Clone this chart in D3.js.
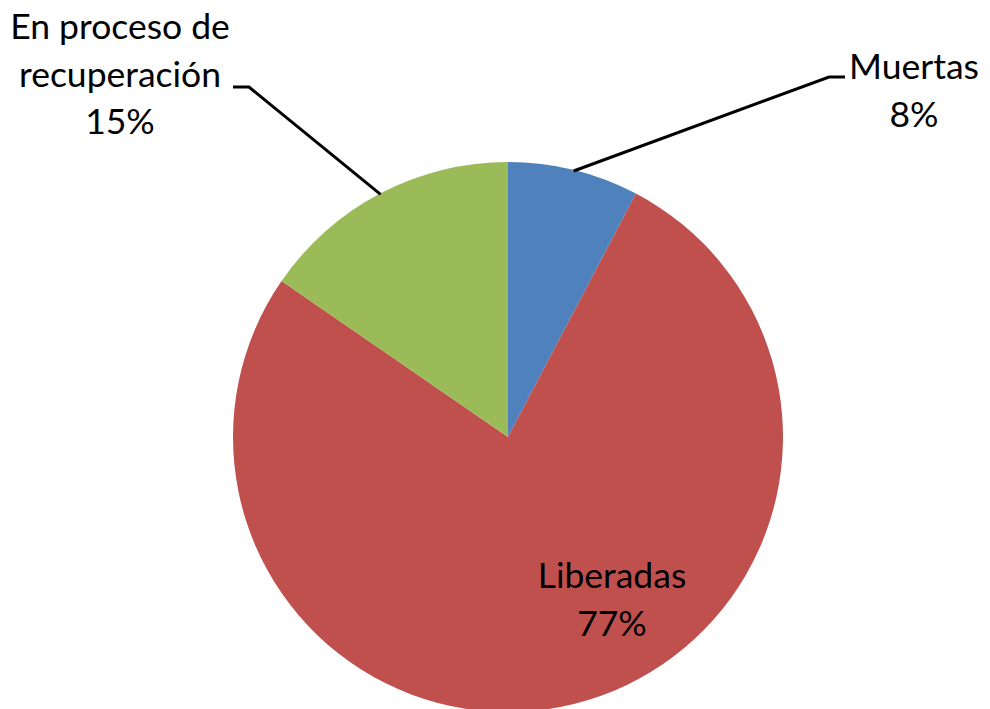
<!DOCTYPE html>
<html>
<head>
<meta charset="utf-8">
<script src="https://d3js.org/d3.v7.min.js"></script>
<style>
  body { margin: 0; background: #fff; }
  text { font-family: Lato, "Open Sans", sans-serif; fill: #000; }
</style>
</head>
<body>
<script>
// data (percent of total)
var categories = ["Muertas", "Liberadas", "En proceso de recuperación"];
var values = [7.7, 76.9, 15.4];
var colors = ["#4F81BD", "#C0504D", "#9BBB59"];

var width = 990, height = 709;
var cx = 508, cy = 437, r = 275;

var svg = d3.select("body").append("svg")
    .attr("width", width)
    .attr("height", height);

var g = svg.append("g").attr("transform", "translate(" + cx + "," + cy + ")");

var pie = d3.pie().sort(null).value(function(d) { return d; });
var arcs = pie(values);
var arc = d3.arc().innerRadius(0).outerRadius(r);
var total = d3.sum(values);

g.selectAll("path")
    .data(arcs)
    .enter()
    .append("path")
    .attr("d", arc)
    .attr("fill", function(d, i) { return colors[i]; });

function pct(i) { return Math.round(values[i] / total * 100) + "%"; }

// label placement: lines of text, anchor, elbow end of leader
var labels = [
    { lines: ["Muertas", pct(0)], x: 914, y: 79, elbow: [[829, 77], [845, 77]] },
    { lines: ["Liberadas", pct(1)], x: 612, y: 588, elbow: null },
    { lines: ["En proceso de", "recuperación", pct(2)], x: 120, y: 39, elbow: [[249, 87], [233, 87]] }
];

labels.forEach(function(l, i) {
    if (l.elbow) {
        var a = (arcs[i].startAngle + arcs[i].endAngle) / 2;
        var sx = cx + (r - 1) * Math.sin(a), sy = cy - (r - 1) * Math.cos(a);
        svg.append("path")
            .attr("d", d3.line()([[sx, sy]].concat(l.elbow)))
            .attr("fill", "none")
            .attr("stroke", "#000")
            .attr("stroke-width", 3);
    }
    var t = svg.append("text")
        .attr("text-anchor", "middle")
        .attr("font-size", 35.5);
    l.lines.forEach(function(s, k) {
        t.append("tspan").attr("x", l.x).attr("y", l.y + k * 47.5).text(s);
    });
});
</script>
</body>
</html>
